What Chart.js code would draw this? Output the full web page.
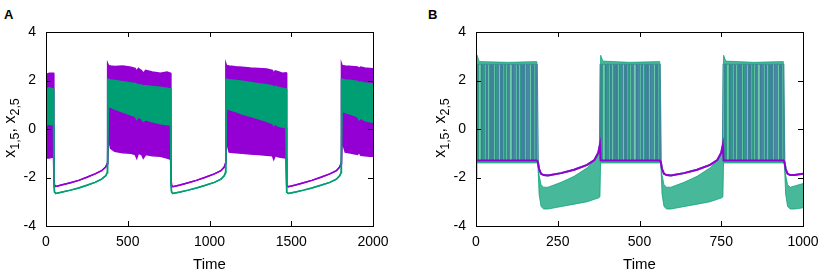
<!DOCTYPE html>
<html>
<head>
<meta charset="utf-8">
<script src="https://cdn.jsdelivr.net/npm/chart.js@4"></script>
<style>
  html, body { margin: 0; padding: 0; background: #fff; overflow: hidden; }
  body { width: 829px; height: 278px; position: relative; font-family: "Liberation Sans", Arial, sans-serif; }
  .panel { position: absolute; top: 0; height: 278px; }
  .letter { position: absolute; top: 7px; font: bold 13px/16px "Liberation Sans", Arial, sans-serif; }
</style>
</head>
<body>
<div class="letter" style="left:4px">A</div>
<div class="letter" style="left:428px">B</div>
<div class="panel" style="left:0; width:415px"><canvas id="chartA"></canvas></div>
<div class="panel" style="left:430px; width:399px"><canvas id="chartB"></canvas></div>
<script>
// Panel A: envelopes of the fast oscillations (high/low), equal in the quiet phases
const timeA = [
  0, 20, 46,
  48, 52, 60, 100, 150, 200, 250, 300, 340, 365, 375,
  377, 382, 395, 420, 470, 520, 545, 555, 565, 585, 595, 610, 650, 700, 740, 762,
  764, 768, 776, 820, 870, 920, 975, 1030, 1070, 1090, 1098,
  1100, 1104, 1120, 1160, 1200, 1250, 1300, 1350, 1385, 1393, 1402, 1420, 1445, 1468,
  1470, 1474, 1482, 1526, 1576, 1626, 1681, 1736, 1776, 1796, 1805,
  1807, 1811, 1830, 1870, 1905, 1915, 1925, 1950, 1980, 2000
];
const purpleHighA = [
  2.25, 2.3, 2.3,
  -2.0, -2.32, -2.37, -2.3, -2.22, -2.12, -1.99, -1.85, -1.72, -1.57, -1.42,
  2.7, 2.62, 2.6, 2.58, 2.6, 2.55, 2.5, 2.38, 2.5, 2.4, 2.3, 2.42, 2.35, 2.3, 2.35, 2.3,
  -2.0, -2.32, -2.38, -2.31, -2.22, -2.12, -1.99, -1.85, -1.72, -1.57, -1.42,
  2.7, 2.62, 2.6, 2.57, 2.55, 2.52, 2.5, 2.47, 2.42, 2.3, 2.4, 2.36, 2.3, 2.32,
  -2.0, -2.32, -2.38, -2.31, -2.22, -2.12, -1.99, -1.85, -1.72, -1.57, -1.42,
  2.7, 2.62, 2.6, 2.58, 2.56, 2.5, 2.55, 2.52, 2.5, 2.48
];
const purpleLowA = [
  -1.2, -1.2, -1.15,
  -2.0, -2.32, -2.37, -2.3, -2.22, -2.12, -1.99, -1.85, -1.72, -1.57, -1.42,
  -1.4, -0.35, -0.8, -0.92, -0.98, -1.0, -1.05, -1.2, -1.0, -1.05, -1.2, -1.05, -1.1, -1.12, -1.2, -1.25,
  -2.0, -2.32, -2.38, -2.31, -2.22, -2.12, -1.99, -1.85, -1.72, -1.57, -1.42,
  -1.4, -0.5, -0.95, -0.98, -1.0, -1.03, -1.05, -1.08, -1.1, -1.25, -1.1, -1.15, -1.18, -1.2,
  -2.0, -2.32, -2.38, -2.31, -2.22, -2.12, -1.99, -1.85, -1.72, -1.57, -1.42,
  -1.4, -0.5, -0.95, -1.0, -1.05, -0.95, -1.08, -1.1, -1.12, -1.12
];
const greenHighA = [
  1.65, 1.7, 1.65,
  -2.2, -2.6, -2.66, -2.6, -2.52, -2.43, -2.32, -2.2, -2.07, -1.93, -1.8,
  2.05, 2.05, 2.02, 2.0, 1.95, 1.9, 1.88, 1.85, 1.82, 1.8, 1.78, 1.78, 1.75, 1.72, 1.68, 1.65,
  -2.2, -2.6, -2.66, -2.6, -2.52, -2.43, -2.32, -2.2, -2.07, -1.93, -1.8,
  2.05, 2.05, 2.03, 2.0, 1.97, 1.92, 1.87, 1.82, 1.78, 1.72, 1.76, 1.72, 1.68, 1.65,
  -2.2, -2.6, -2.66, -2.6, -2.52, -2.43, -2.32, -2.2, -2.07, -1.93, -1.8,
  2.05, 2.05, 2.02, 2.0, 1.96, 1.92, 1.94, 1.9, 1.88, 1.86
];
const greenLowA = [
  0.15, 0.2, 0.15,
  -2.2, -2.6, -2.66, -2.6, -2.52, -2.43, -2.32, -2.2, -2.07, -1.93, -1.8,
  -1.8, 0.95, 0.9, 0.82, 0.7, 0.58, 0.52, 0.4, 0.5, 0.42, 0.32, 0.38, 0.3, 0.22, 0.18, 0.15,
  -2.2, -2.6, -2.66, -2.6, -2.52, -2.43, -2.32, -2.2, -2.07, -1.93, -1.8,
  -1.8, 0.85, 0.8, 0.72, 0.62, 0.52, 0.42, 0.32, 0.22, 0.15, 0.2, 0.12, 0.08, 0.05,
  -2.2, -2.6, -2.66, -2.6, -2.52, -2.43, -2.32, -2.2, -2.07, -1.93, -1.8,
  -1.8, 0.75, 0.68, 0.6, 0.5, 0.38, 0.45, 0.35, 0.3, 0.28
];

// Panel B
const timeB = [
  0, 3, 10, 100, 186,
  189, 193, 199, 207, 220, 260, 300, 340, 362, 374, 379,
  381, 388, 470, 562,
  565, 569, 575, 583, 596, 636, 676, 716, 738, 750, 755,
  757, 764, 850, 940,
  943, 947, 953, 961, 974, 1000
];
const purpleHighB = [
  2.65, 2.65, 2.65, 2.65, 2.65,
  -1.35, -1.65, -1.85, -1.9, -1.92, -1.82, -1.68, -1.48, -1.28, -0.98, -0.65,
  2.65, 2.65, 2.65, 2.65,
  -1.35, -1.65, -1.85, -1.9, -1.92, -1.82, -1.68, -1.48, -1.28, -0.98, -0.65,
  2.65, 2.65, 2.65, 2.65,
  -1.35, -1.65, -1.85, -1.9, -1.9, -1.85
];
const purpleLowB = [
  -1.3, -1.3, -1.3, -1.3, -1.3,
  -1.35, -1.65, -1.85, -1.9, -1.92, -1.82, -1.68, -1.48, -1.28, -0.98, -0.65,
  -1.3, -1.3, -1.3, -1.3,
  -1.35, -1.65, -1.85, -1.9, -1.92, -1.82, -1.68, -1.48, -1.28, -0.98, -0.65,
  -1.3, -1.3, -1.3, -1.3,
  -1.35, -1.65, -1.85, -1.9, -1.9, -1.85
];
const greenHighB = [
  2.9, 3.05, 2.78, 2.75, 2.78,
  -1.4, -1.9, -2.3, -2.4, -2.4, -2.2, -1.95, -1.6, -1.3, -1.0, -0.75,
  3.05, 2.8, 2.75, 2.78,
  -1.4, -1.9, -2.3, -2.4, -2.4, -2.2, -1.95, -1.6, -1.3, -1.0, -0.75,
  3.05, 2.8, 2.75, 2.78,
  -1.4, -1.9, -2.3, -2.4, -2.35, -2.25
];
const greenLowB = [
  -2.0, -1.4, -1.4, -1.4, -1.4,
  -1.4, -2.7, -3.2, -3.3, -3.3, -3.2, -3.1, -3.0, -2.9, -2.85, -2.8,
  -1.4, -1.4, -1.4, -1.4,
  -1.4, -2.7, -3.2, -3.3, -3.3, -3.2, -3.1, -3.0, -2.9, -2.85, -2.8,
  -1.4, -1.4, -1.4, -1.4,
  -1.4, -2.7, -3.2, -3.3, -3.3, -3.25
];

const yTicks = [-4, -2, 0, 2, 4];
const xTicksA = [0, 500, 1000, 1500, 2000];
const xTicksB = [0, 250, 500, 750, 1000];

const PURPLE = "#9400d3";
const GREEN = "#009e73";
const FONT = "'Liberation Sans', Arial, sans-serif";

function points(times, values) {
  return times.map((t, i) => ({ x: t, y: values[i] }));
}

function line(times, values, color, fillColor, width, order, fill) {
  return {
    data: points(times, values),
    borderColor: color,
    backgroundColor: fillColor || color,
    borderWidth: width,
    pointRadius: 0,
    tension: 0,
    fill: fill || false,
    order: order
  };
}

// striped fill for the overlapping spikes in panel B
function stripes(colors) {
  const c = document.createElement("canvas");
  c.width = colors.length; c.height = 4;
  const g = c.getContext("2d");
  colors.forEach((col, i) => { g.fillStyle = col; g.fillRect(i, 0, 1, 4); });
  return g.createPattern(c, "repeat");
}

// frame, inward ticks and the subscripted y title
const framePlugin = {
  id: "frame",
  afterDraw(chart) {
    const { ctx, chartArea: a, scales } = chart;
    ctx.save();
    ctx.strokeStyle = "#000";
    ctx.lineWidth = 1;
    ctx.strokeRect(Math.round(a.left) + 0.5, Math.round(a.top) + 0.5,
      Math.round(a.right - a.left), Math.round(a.bottom - a.top));
    ctx.beginPath();
    scales.x.ticks.forEach(t => {
      const px = Math.round(scales.x.getPixelForValue(t.value)) + 0.5;
      ctx.moveTo(px, a.bottom); ctx.lineTo(px, a.bottom - 5);
      ctx.moveTo(px, a.top); ctx.lineTo(px, a.top + 5);
    });
    scales.y.ticks.forEach(t => {
      const py = Math.round(scales.y.getPixelForValue(t.value)) + 0.5;
      ctx.moveTo(a.left, py); ctx.lineTo(a.left + 5, py);
      ctx.moveTo(a.right, py); ctx.lineTo(a.right - 5, py);
    });
    ctx.stroke();

    // y title: x1,5, x2,5
    const parts = [["x", 0], ["1,5", 1], [", x", 0], ["2,5", 1]];
    const big = "16px " + FONT, small = "12.5px " + FONT;
    let total = 0;
    parts.forEach(p => { ctx.font = p[1] ? small : big; total += ctx.measureText(p[0]).width; });
    ctx.translate(a.left - 33, (a.top + a.bottom) / 2 - 1);
    ctx.rotate(-Math.PI / 2);
    ctx.fillStyle = "#000";
    ctx.textBaseline = "alphabetic";
    let x = -total / 2;
    parts.forEach(p => {
      ctx.font = p[1] ? small : big;
      ctx.fillText(p[0], x, p[1] ? 5.5 : 2);
      x += ctx.measureText(p[0]).width;
    });
    ctx.restore();
  }
};

function makeChart(id, datasets, xMax, xTicks, padRight) {
  return new Chart(document.getElementById(id), {
    type: "line",
    data: { datasets: datasets },
    options: {
      responsive: true,
      maintainAspectRatio: false,
      animation: false,
      layout: { padding: { top: 32, right: padRight, left: 0, bottom: 0 } },
      plugins: { legend: { display: false }, tooltip: { enabled: false } },
      scales: {
        x: {
          type: "linear",
          min: 0, max: xMax,
          afterBuildTicks: s => { s.ticks = xTicks.map(v => ({ value: v })); },
          afterFit: s => { s.height = 52; },
          grid: { display: false, drawTicks: false },
          border: { display: false },
          ticks: { padding: 8, color: "#000", font: { family: FONT, size: 14 }, maxRotation: 0, callback: v => String(v) },
          title: { display: true, text: "Time", color: "#000", font: { family: FONT, size: 15 }, padding: { top: 0, bottom: 4 } }
        },
        y: {
          min: -4, max: 4,
          afterBuildTicks: s => { s.ticks = yTicks.map(v => ({ value: v })); },
          afterFit: s => { s.width = 46; },
          grid: { display: false, drawTicks: false },
          border: { display: false },
          ticks: { padding: 10, color: "#000", font: { family: FONT, size: 14 }, callback: v => String(v) }
        }
      }
    },
    plugins: [framePlugin]
  });
}

makeChart("chartA", [
  line(timeA, purpleHighA, PURPLE, PURPLE, 1.5, 4),
  line(timeA, purpleLowA, PURPLE, PURPLE, 1.5, 3, "-1"),
  line(timeA, greenHighA, GREEN, GREEN, 1.5, 2),
  line(timeA, greenLowA, GREEN, GREEN, 1.5, 1, "-1")
], 2000, xTicksA, 42);

const BURST = stripes([
  "#3f7f9c", "#3a8a95", "#5ec2a2", "#3f7f9c", "#2e9c88", "#4a86a6", "#4a86a6",
  "#66c9a8", "#3b8596", "#3f7f9c", "#3f7f9c", "#4fae9c", "#2f9a86", "#4680a2",
  "#5bbfa0", "#3a8a95", "#46829e", "#2e9c88", "#6ccaa9", "#5bbfa0", "#3c7d9b",
  "#3a8a95", "#4b8aa4", "#2f9a86", "#55b8a0", "#3f7f9c", "#437fa0", "#62c5a5",
  "#2e9c88", "#3b8596", "#4680a2"
]);
const GREEN_SOFT = "rgba(0,158,115,0.72)";
makeChart("chartB", [
  line(timeB, greenHighB, "#4fbf9c", GREEN_SOFT, 1, 4),
  line(timeB, greenLowB, GREEN_SOFT, GREEN_SOFT, 1, 3, "-1"),
  line(timeB, purpleHighB, "#3f8f98", BURST, 2, 2),
  line(timeB, purpleLowB, PURPLE, BURST, 2, 1, "-1")
], 1000, xTicksB, 26);
</script>
</body>
</html>
